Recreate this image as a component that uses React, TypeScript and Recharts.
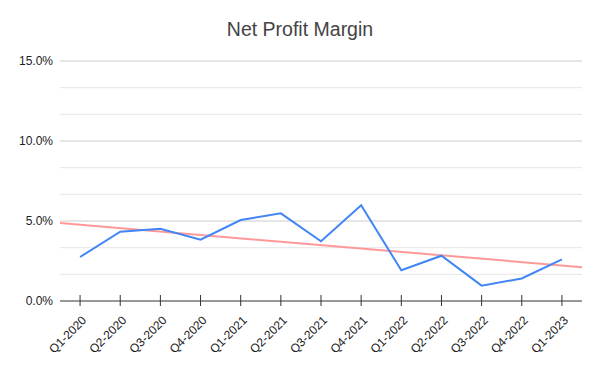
import { CartesianGrid, Line, LineChart, ReferenceLine, XAxis, YAxis } from 'recharts';

const quarters = [
  'Q1-2020', 'Q2-2020', 'Q3-2020', 'Q4-2020',
  'Q1-2021', 'Q2-2021', 'Q3-2021', 'Q4-2021',
  'Q1-2022', 'Q2-2022', 'Q3-2022', 'Q4-2022',
  'Q1-2023',
];
const margins = [2.75, 4.33, 4.52, 3.83, 5.06, 5.48, 3.73, 5.98, 1.92, 2.83, 0.96, 1.41, 2.6];
const yTicks = [0, 5, 10, 15];
const minorGrid = [5 / 3, 10 / 3, 20 / 3, 25 / 3, 35 / 3, 40 / 3];

const data = quarters.map((q, i) => ({ idx: i, label: q, margin: margins[i] }));

// least-squares trendline, drawn over the full plot width like Sheets does
function trend() {
  const n = margins.length;
  const mx = (n - 1) / 2;
  const my = margins.reduce((a, b) => a + b, 0) / n;
  let sxy = 0;
  let sxx = 0;
  margins.forEach((v, i) => {
    sxy += (i - mx) * (v - my);
    sxx += (i - mx) * (i - mx);
  });
  const slope = sxy / sxx;
  const at = (x: number) => my + slope * (x - mx);
  return [
    { idx: -0.5, trend: at(-0.5) },
    { idx: n - 0.5, trend: at(n - 0.5) },
  ];
}
const trendData = trend();

const FONT = '"Liberation Sans", Arial, sans-serif';

function QuarterTick({ x, y, payload }: { x?: number; y?: number; payload?: { value: number } }) {
  const label = quarters[payload?.value ?? 0];
  return (
    <g transform={`translate(${x},${y})`}>
      <line x1={0} x2={0} y1={-6} y2={5} stroke="#333" strokeWidth={1} />
      <text
        x={0}
        y={0}
        transform="translate(7,20) rotate(-45)"
        textAnchor="end"
        fontSize={12}
        fontFamily={FONT}
        fill="#222"
      >
        {label}
      </text>
    </g>
  );
}

export default function App() {
  return (
    <div style={{ position: 'absolute', left: 0, top: 0, width: 600, height: 371, background: '#fff' }}>
      <div
        style={{
          position: 'absolute',
          top: 18,
          width: 600,
          textAlign: 'center',
          fontFamily: FONT,
          fontSize: 19.5,
          color: '#444',
        }}
      >
        Net Profit Margin
      </div>
      <LineChart
        width={600}
        height={371}
        data={data}
        margin={{ top: 61, right: 18, left: 0, bottom: 10 }}
      >
        <CartesianGrid vertical={false} horizontal={false} />
        {minorGrid.map((v) => (
          <ReferenceLine key={`m${v}`} y={v} stroke="#e6e6e6" strokeWidth={1} />
        ))}
        {yTicks.slice(1).map((v) => (
          <ReferenceLine key={`M${v}`} y={v} stroke="#cccccc" strokeWidth={1} />
        ))}
        <XAxis
          dataKey="idx"
          type="number"
          domain={[-0.5, quarters.length - 0.5]}
          ticks={data.map((d) => d.idx)}
          interval={0}
          allowDataOverflow
          height={60}
          axisLine={{ stroke: '#333', strokeWidth: 1 }}
          tickLine={false}
          tickSize={0}
          tickMargin={0}
          tick={<QuarterTick />}
        />
        <YAxis
          domain={[0, 15]}
          ticks={yTicks}
          width={60}
          axisLine={false}
          tickLine={false}
          tickSize={6}
          tickMargin={1}
          tickFormatter={(v) => `${v.toFixed(1)}%`}
          tick={{ fill: '#222', fontSize: 12, fontFamily: FONT }}
        />
        <Line
          data={trendData}
          dataKey="trend"
          stroke="#ff9999"
          strokeWidth={2}
          dot={false}
          isAnimationActive={false}
        />
        <Line
          dataKey="margin"
          stroke="#4285f4"
          strokeWidth={2}
          dot={false}
          isAnimationActive={false}
        />
      </LineChart>
    </div>
  );
}
